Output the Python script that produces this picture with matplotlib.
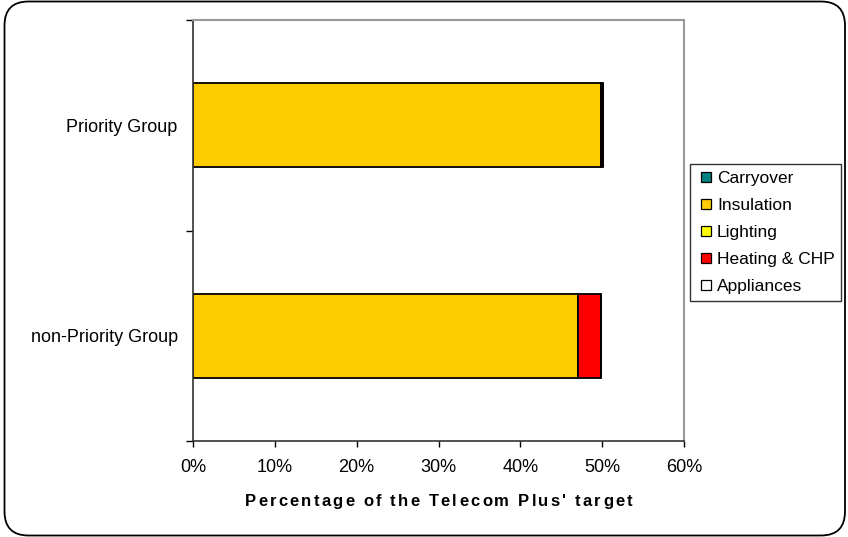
import matplotlib
matplotlib.use('Agg')
import matplotlib.pyplot as plt
from matplotlib.patches import FancyBboxPatch
from matplotlib.lines import Line2D
from matplotlib.font_manager import FontProperties, findfont
from matplotlib.ft2font import FT2Font

plt.rcParams['font.family'] = ['Liberation Sans', 'DejaVu Sans']

categories = ['non-Priority Group', 'Priority Group']
series_names = ['Carryover', 'Insulation', 'Lighting', 'Heating & CHP', 'Appliances']
series_colors = ['#008080', '#FFCC00', '#FFFF00', '#FF0000', '#FFFFFF']
carryover = [0.0, 0.0]
insulation = [47.1, 49.8]
lighting = [0.0, 0.0]
heating = [2.8, 0.3]
appliances = [0.0, 0.0]
x_ticks = [0, 10, 20, 30, 40, 50, 60]
x_label = "Percentage of the Telecom Plus' target"

W, H = 848, 537
fig = plt.figure(figsize=(W / 100, H / 100), dpi=100)
ax = fig.add_axes([193 / W, 1 - 441 / H, 491 / W, 421 / H])

ypos = list(range(len(categories)))
left = [0.0] * len(categories)
for name, vals, color in zip(series_names,
                             [carryover, insulation, lighting, heating, appliances],
                             series_colors):
    ax.barh(ypos, vals, left=left, height=0.4, color=color,
            edgecolor='black', linewidth=1.3, label=name)
    left = [l + v for l, v in zip(left, vals)]

ax.set_xlim(0, 60)
ax.set_ylim(-0.5, 1.5)
ax.set_xticks(x_ticks)
ax.set_xticklabels([f'{t}%' for t in x_ticks], fontsize=13)
ax.tick_params(axis='x', direction='out', length=4, width=1, pad=9, colors='black')

ax.set_yticks([-0.5, 0.5, 1.5])
ax.set_yticklabels([])
ax.set_yticks(ypos, minor=True)
ax.set_yticklabels(categories, minor=True, fontsize=13)
ax.tick_params(axis='y', which='major', direction='out', length=5, width=1)
ax.tick_params(axis='y', which='minor', length=0, pad=11)

for side in ['top', 'right']:
    ax.spines[side].set_color('#999999')
    ax.spines[side].set_linewidth(1.5)
for side in ['left', 'bottom']:
    ax.spines[side].set_color('#333333')
    ax.spines[side].set_linewidth(1.2)

# bold axis title with wide letter spacing, placed glyph by glyph
fp = FontProperties(family='Liberation Sans', weight='bold', size=12)
font = FT2Font(findfont(fp))
font.set_size(12, 100)
tracking = 2.2
advances = []
for ch in x_label:
    g = font.load_char(ord(ch))
    advances.append(g.linearHoriAdvance / 65536)
total = sum(advances) + tracking * (len(x_label) - 1)
x0 = 438.5 - total / 2
for ch, adv in zip(x_label, advances):
    fig.text(x0 / W, 1 - 506 / H, ch, fontproperties=fp, ha='left', va='baseline')
    x0 += adv + tracking

handles = [Line2D([], [], linestyle='none', marker='s', markersize=7.0,
                  markerfacecolor=c, markeredgecolor='black', markeredgewidth=0.9)
           for c in series_colors]
leg = fig.legend(handles, series_names, loc='upper left',
                 bbox_to_anchor=(690 / W, 1 - 164 / H), fontsize=12.5,
                 frameon=True, fancybox=False, handlelength=1.03,
                 handletextpad=0.13, labelspacing=0.68, borderpad=0.39,
                 borderaxespad=0)
leg.get_frame().set_edgecolor('black')
leg.get_frame().set_linewidth(1.0)

border = FancyBboxPatch((4.5, 1.5), 840.5, 534, boxstyle='round,pad=0,rounding_size=24',
                        transform=None, facecolor='none', edgecolor='black',
                        linewidth=1.3)
fig.patches.append(border)

fig.savefig('out.png', dpi=100)
